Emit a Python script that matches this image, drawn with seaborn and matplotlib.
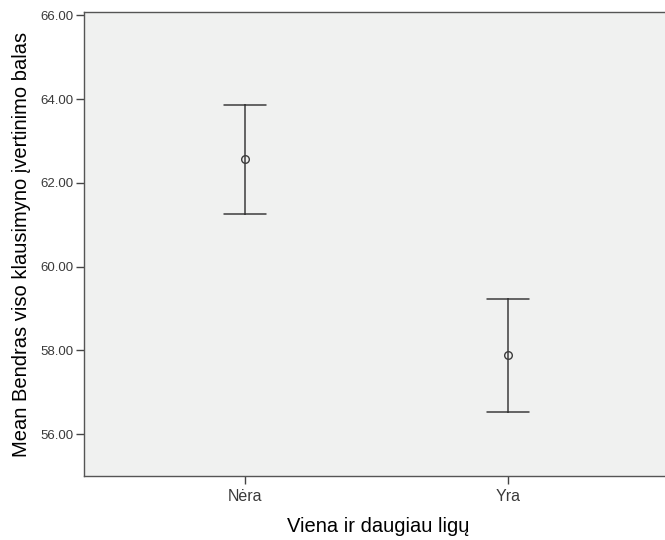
import pandas as pd
import numpy as np
import seaborn as sns
import matplotlib.pyplot as plt
from matplotlib.ticker import FormatStrFormatter

# Grupės ir vertės nuskaitytos nuo paveikslo (vidurkis ir 95 % PI ribos)
grupes = ["Nėra", "Yra"]
vidurkiai = [62.57, 57.88]
apatines = [61.26, 56.53]
virsutines = [63.87, 59.22]
y_ticks = [56, 58, 60, 62, 64, 66]

# Ilgas formatas: kiekvienai grupei trys reikšmės (apatinė, vidurkis, viršutinė)
eilutes = []
for g, lo, m, hi in zip(grupes, apatines, vidurkiai, virsutines):
    for v in (lo, m, hi):
        eilutes.append({"grupe": g, "balas": v})
df = pd.DataFrame(eilutes)

sns.set_style("ticks")
plt.rcParams["font.family"] = ["Liberation Sans", "DejaVu Sans"]

fig = plt.figure(figsize=(6.65, 5.4), dpi=100)
ax = fig.add_axes([84 / 665, 64 / 540, 581 / 665, 464 / 540])
ax.set_facecolor("#F0F1F0")

spalva = "#3c3c3c"
sns.pointplot(
    data=df, x="grupe", y="balas", order=grupes,
    estimator=np.median,                       # vidurinė reikšmė = vidurkis
    errorbar=lambda v: (v.min(), v.max()),     # PI ribos
    linestyle="none", marker="o", color=spalva,
    markersize=5.5, markerfacecolor="none", markeredgewidth=1.0,
    capsize=0.158, err_kws={"linewidth": 1.1},
    ax=ax,
)

ax.set_xlim(-0.611, 1.596)
ax.set_ylim(55.0, 66.08)
ax.set_yticks(y_ticks)
ax.yaxis.set_major_formatter(FormatStrFormatter("%.2f"))

for s in ["left", "top", "bottom"]:
    ax.spines[s].set_color("#555555")
    ax.spines[s].set_linewidth(1.0)
ax.spines["right"].set_visible(False)

ax.tick_params(axis="y", length=6, width=1, color="#444444",
               labelcolor="#3a3a3a", labelsize=9.5, pad=1.5)
ax.tick_params(axis="x", length=5.5, width=1, color="#444444",
               labelcolor="#3a3a3a", labelsize=11.5, pad=4)

ax.set_xlabel("Viena ir daugiau ligų", fontsize=14.5, color="black")
ax.xaxis.set_label_coords(0.5065, -0.088)
ax.set_ylabel("Mean Bendras viso klausimyno įvertinimo balas", fontsize=14.5,
              color="black", labelpad=7)

fig.savefig("out.png", dpi=100)
